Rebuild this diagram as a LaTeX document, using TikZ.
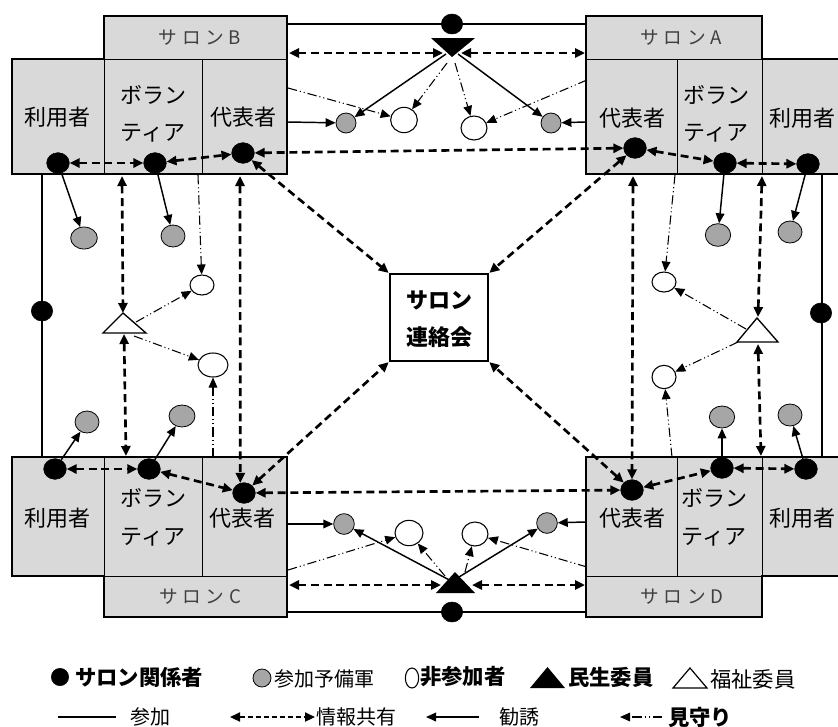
\documentclass[tikz,border=0pt]{standalone}
\usepackage{fontspec}
\setmainfont{Noto Sans CJK JP}
\usetikzlibrary{arrows.meta,shapes.geometric}
\definecolor{boxgray}{HTML}{D9D9D9}
\definecolor{dotgray}{HTML}{A6A6A6}
\definecolor{ttlgray}{HTML}{404040}
\begin{document}
\begin{tikzpicture}[x=0.75pt,y=-0.75pt,
  blackdot/.style={ellipse,fill=black,draw=black,inner sep=0pt,minimum width=17pt,minimum height=15.5pt},
  framedot/.style={ellipse,fill=black,draw=black,inner sep=0pt,minimum width=16pt,minimum height=15pt},
  graydot/.style={ellipse,fill=dotgray,draw=black,line width=0.6pt,inner sep=0pt,minimum width=19pt,minimum height=16.5pt},
  whitedot/.style={ellipse,fill=white,draw=black,line width=0.8pt,inner sep=0pt,minimum width=19pt,minimum height=16pt},
  info/.style={line width=2pt,dash pattern=on 6pt off 3.5pt,arrows={Triangle[length=7.5pt,width=6.8pt]-Triangle[length=7.5pt,width=6.8pt]}},
  invite/.style={line width=1.1pt,arrows={-Triangle[length=7.5pt,width=6.5pt]}},
  watch/.style={line width=0.8pt,dash pattern=on 7pt off 2.2pt on 0.8pt off 2.2pt on 0.8pt off 2.2pt,arrows={-Triangle[length=7.5pt,width=6.5pt]}},
  frameline/.style={line width=1.9pt},
  boxline/.style={line width=1.9pt},
  divline/.style={line width=0.75pt},
  lbl/.style={font=\fontsize{16.5pt}{18pt}\selectfont,inner sep=0pt},
  hubtxt/.style={font=\fontsize{16.5pt}{18pt}\selectfont\bfseries,inner sep=0pt},
  ttl/.style={font=\fontsize{14pt}{16pt}\selectfont,text=ttlgray,inner sep=0pt},
  legb/.style={font=\fontsize{16pt}{18pt}\selectfont\bfseries,inner sep=0pt},
  legr/.style={font=\fontsize{15pt}{18pt}\selectfont,inner sep=0pt},
  legr2/.style={font=\fontsize{16pt}{18pt}\selectfont,inner sep=0pt},
]
\useasboundingbox (0,0) rectangle (838,726);
\newcommand{\salontitle}[1]{サ\hspace{3.5pt}ロ\hspace{3.5pt}ン\hspace{3.5pt}#1}

% ---------- salon boxes ----------
% B
\fill[boxgray] (12,59) rectangle (287,174);
\fill[boxgray] (104,16) rectangle (287,59);
\draw[divline] (104,59) -- (287,59) (104,59) -- (104,174) (202,59) -- (202,174);
\draw[boxline] (12,59) -- (104,59) -- (104,16) -- (287,16) -- (287,174) -- (12,174) -- cycle;
% A
\fill[boxgray] (586,16) rectangle (762,59);
\fill[boxgray] (586,59) rectangle (842,174);
\draw[divline] (586,59) -- (762,59) (677,59) -- (677,174) (762,59) -- (762,174);
\draw[boxline] (586,16) -- (762,16) -- (762,59) -- (842,59) -- (842,174) -- (586,174) -- cycle;
% C
\fill[boxgray] (12,457) rectangle (287,576);
\fill[boxgray] (104,576) rectangle (287,617);
\draw[divline] (104,576) -- (287,576) (104,457) -- (104,576) (202,457) -- (202,576);
\draw[boxline] (12,457) -- (287,457) -- (287,617) -- (104,617) -- (104,576) -- (12,576) -- cycle;
% D
\fill[boxgray] (586,457) rectangle (842,576);
\fill[boxgray] (586,576) rectangle (762,617);
\draw[divline] (586,576) -- (762,576) (677,457) -- (677,576) (762,457) -- (762,576);
\draw[boxline] (586,457) -- (842,457) -- (842,576) -- (762,576) -- (762,617) -- (586,617) -- cycle;

% box texts
\node[ttl] (Bt) at (200,38) {\salontitle{B}};
\node[lbl] (Bl1) at (57,117) {利用者};
\node[lbl] (Bl2) at (153,95) {ボラン};
\node[lbl] (Bl3) at (153,133) {ティア};
\node[lbl] (Bl4) at (243,117) {代表者};
\node[ttl] (At) at (681,38) {\salontitle{A}};
\node[lbl] (Al1) at (632,118) {代表者};
\node[lbl] (Al2) at (716,95) {ボラン};
\node[lbl] (Al3) at (716,133) {ティア};
\node[lbl] (Al4) at (802,118) {利用者};
\node[ttl] (Ct) at (200,597) {\salontitle{C}};
\node[lbl] (Cl1) at (57,518) {利用者};
\node[lbl] (Cl2) at (153,498) {ボラン};
\node[lbl] (Cl3) at (153,537) {ティア};
\node[lbl] (Cl4) at (242,518) {代表者};
\node[ttl] (Dt) at (682,597) {\salontitle{D}};
\node[lbl] (Dl1) at (632,518) {代表者};
\node[lbl] (Dl2) at (714,498) {ボラン};
\node[lbl] (Dl3) at (714,537) {ティア};
\node[lbl] (Dl4) at (802,518) {利用者};

% hub
\node[draw,line width=1.9pt,fill=white,minimum width=73.5pt,minimum height=65pt,inner sep=0pt] (hub) at (439,317.5) {};
\node[hubtxt] (hub1) at (439,300) {サロン};
\node[hubtxt] (hub2) at (439,337) {連絡会};

% ---------- frame lines ----------
\coordinate (fTa) at (287,24); \coordinate (fTb) at (586,24);
\coordinate (fBa) at (287,612); \coordinate (fBb) at (586,612);
\coordinate (fLa) at (42,174); \coordinate (fLb) at (42,457);
\coordinate (fRa) at (822,174); \coordinate (fRb) at (822,457);
\draw[frameline] (fTa) -- (fTb);
\draw[frameline] (fBa) -- (fBb);
\draw[frameline] (fLa) -- (fLb);
\draw[frameline] (fRa) -- (fRb);
\node[framedot] (ft) at (452,24) {};
\node[framedot] (fb) at (452,612) {};
\node[framedot] (fl) at (42,311) {};
\node[framedot] (fr) at (821,313) {};

% ---------- triangles ----------
\fill (431,38) -- (475,38) -- (452,57) -- cycle;
\fill (436,593) -- (475,593) -- (455,572) -- cycle;
\draw[fill=white,line width=1pt] (103,333) -- (146,333) -- (123,313) -- cycle;
\draw[fill=white,line width=1pt] (737,342) -- (778,342) -- (757,318) -- cycle;
\coordinate (tTL) at (443,53); \coordinate (tTR) at (461,53);
\coordinate (tTi1) at (446,54); \coordinate (tTi2) at (458,54);
\coordinate (tTw1) at (447,63); \coordinate (tTw2) at (455,63);
\coordinate (bTL) at (441,585); \coordinate (bTR) at (472,585);
\coordinate (bTi1) at (455,583); \coordinate (bTi2) at (459,577);
\coordinate (bTw1) at (445,576); \coordinate (bTw2) at (465,572);
\coordinate (lTa) at (123,313); \coordinate (lTb) at (124,334);
\coordinate (lTw1) at (136,322); \coordinate (lTw2) at (134,336);
\coordinate (rTa) at (758,317); \coordinate (rTb) at (758,344);
\coordinate (rTw1) at (746,329); \coordinate (rTw2) at (738,342);

% ---------- persons ----------
\node[blackdot] (Bu) at (58,163) {};
\node[blackdot] (Bv) at (155,163) {};
\node[blackdot] (Br) at (243,153) {};
\node[blackdot] (Ar) at (635,148) {};
\node[blackdot] (Av) at (725,163) {};
\node[blackdot] (Au) at (808,164) {};
\node[blackdot] (Cu) at (55,469) {};
\node[blackdot] (Cv) at (149,469) {};
\node[blackdot] (Cr) at (244,493) {};
\node[blackdot] (Dr) at (632,490) {};
\node[blackdot] (Dv) at (722,468) {};
\node[blackdot] (Du) at (806,469) {};

\node[graydot,minimum width=15pt,minimum height=15pt] (tg1) at (346,123) {};
\node[graydot,minimum width=15pt,minimum height=15pt] (tg2) at (551,123) {};
\node[graydot,minimum width=15.5pt,minimum height=15.5pt] (bg1) at (344,524) {};
\node[graydot,minimum width=15.5pt,minimum height=15.5pt] (bg2) at (547,523) {};
\node[graydot,minimum width=20pt,minimum height=16.5pt] (lg1) at (84,238) {};
\node[graydot,minimum width=18pt,minimum height=16.5pt] (lg2) at (173,236) {};
\node[graydot,minimum width=18pt,minimum height=16.5pt] (lg3) at (87,422) {};
\node[graydot,minimum width=19.5pt,minimum height=16.5pt] (lg4) at (182,416) {};
\node[graydot,minimum width=19pt,minimum height=17pt] (rg1) at (718,235) {};
\node[graydot,minimum width=18pt,minimum height=16.5pt] (rg2) at (790,232) {};
\node[graydot,minimum width=19pt,minimum height=16.5pt] (rg3) at (722,417) {};
\node[graydot,minimum width=18pt,minimum height=16.5pt] (rg4) at (790,415) {};

\node[whitedot,minimum width=20pt,minimum height=19pt] (tw1) at (404,120) {};
\node[whitedot,minimum width=19.5pt,minimum height=18pt] (tw2) at (474,128) {};
\node[whitedot,minimum width=21pt,minimum height=19pt] (bw1) at (409,533) {};
\node[whitedot,minimum width=19.5pt,minimum height=18pt] (bw2) at (475,534) {};
\node[whitedot,minimum width=18pt,minimum height=15pt] (lw1) at (202,285) {};
\node[whitedot,minimum width=22.5pt,minimum height=18pt] (lw2) at (213,365) {};
\node[whitedot,minimum width=18pt,minimum height=15pt] (rw1) at (664,282) {};
\node[whitedot,minimum width=18pt,minimum height=17.5pt] (rw2) at (664,377) {};

% ---------- box edge points ----------
\coordinate (Bbot1) at (240,176); \coordinate (Bbot2) at (122,176); \coordinate (Bbot3) at (198,175);
\coordinate (Abot1) at (633,176); \coordinate (Abot2) at (762,176); \coordinate (Abot3) at (675,175);
\coordinate (Ctop1) at (126,456); \coordinate (Ctop2) at (213,457);
\coordinate (Dtop2) at (761,456); \coordinate (Dtop3) at (672,457);
\coordinate (Btitle) at (289,53); \coordinate (Atitle) at (585,53);
\coordinate (Ctitle) at (289,585); \coordinate (Dtitle) at (585,585);
\coordinate (Bright1) at (288,122); \coordinate (Bright2) at (288,88);
\coordinate (Aleft1) at (585,122); \coordinate (Aleft2) at (587,80);
\coordinate (Cright1) at (288,524); \coordinate (Cright2) at (288,570);
\coordinate (Dleft1) at (585,522); \coordinate (Dleft2) at (587,567);

% ---------- information sharing ----------
\draw[info] (Bu) -- (Bv);
\draw[info] (Bv) -- (Br);
\draw[info] (Ar) -- (Av);
\draw[info] (Av) -- (Au);
\draw[info] (Cu) -- (Cv);
\draw[info] (Cv) -- (Cr);
\draw[info] (Dr) -- (Dv);
\draw[info] (Dv) -- (Du);
\draw[info] (Br) -- (Ar);
\draw[info] (Cr) -- (Dr);
\draw[info] (Br) -- (hub.north west);
\draw[info] (Ar) -- (hub.north east);
\draw[info] (Cr) -- (hub.south west);
\draw[info] (Dr) -- (hub.south east);
\draw[info] (Bbot1) -- (Cr.110);
\draw[info] (Abot1) -- (Dr.north);
\draw[info] (Bbot2) -- (lTa);
\draw[info] (lTb) -- (Ctop1);
\draw[info] (Abot2) -- (rTa);
\draw[info] (rTb) -- (Dtop2);
\draw[info] (Btitle) -- (tTL);
\draw[info] (tTR) -- (Atitle);
\draw[info] (Ctitle) -- (bTL);
\draw[info] (bTR) -- (Dtitle);

% ---------- invitation ----------
\draw[invite] (Bright1) -- (tg1);
\draw[invite] (Aleft1) -- (tg2);
\draw[invite] (tTi1) -- (tg1);
\draw[invite] (tTi2) -- (tg2);
\draw[invite] (Cright1) -- (bg1);
\draw[invite] (Dleft1) -- (bg2);
\draw[invite] (bTi1) -- (bg1);
\draw[invite] (bTi2) -- (bg2);
\draw[invite] (Bu) -- (lg1);
\draw[invite] (Bv) -- (lg2);
\draw[invite] (Cu) -- (lg3);
\draw[invite] (Cv) -- (lg4);
\draw[invite] (Av) -- (rg1);
\draw[invite] (Au) -- (rg2);
\draw[invite] (Dv) -- (rg3);
\draw[invite] (Du) -- (rg4);

% ---------- watching ----------
\draw[watch] (Bright2) -- (tw1);
\draw[watch] (tTw1) -- (tw1);
\draw[watch] (tTw2) -- (tw2);
\draw[watch] (Aleft2) -- (tw2);
\draw[watch] (Cright2) -- (bw1);
\draw[watch] (bTw1) -- (bw1);
\draw[watch] (bTw2) -- (bw2);
\draw[watch] (Dleft2) -- (bw2);
\draw[watch] (Bbot3) -- (lw1);
\draw[watch] (lTw1) -- (lw1);
\draw[watch] (lTw2) -- (lw2);
\draw[watch] (Ctop2) -- (lw2);
\draw[watch] (Abot3) -- (rw1);
\draw[watch] (rTw1) -- (rw1);
\draw[watch] (rTw2) -- (rw2);
\draw[watch] (Dtop3) -- (rw2);

% ---------- legend ----------
\node[blackdot,minimum width=13pt,minimum height=13pt] (k1) at (60,677) {};
\node[legb,anchor=west] (k1t) at (75,677) {サロン関係者};
\node[graydot,minimum width=13.5pt,minimum height=13.5pt] (k2) at (262,678) {};
\node[legr,anchor=west] (k2t) at (274,679) {参加予備軍};
\node[whitedot,minimum width=10pt,minimum height=15pt] (k3) at (412,678) {};
\node[legb,anchor=west] (k3t) at (420,677) {非参加者};
\fill (530,688) -- (565,688) -- (547.5,667) -- cycle;
\node[legb,anchor=west] (k4t) at (568,677) {民生委員};
\draw[line width=0.9pt] (673,688) -- (707,688) -- (690,668) -- cycle;
\node[legr2,anchor=west] (k5t) at (710,679) {福祉委員};

\coordinate (L1a) at (58,717); \coordinate (L1b) at (116,717);
\draw[line width=1.3pt] (L1a) -- (L1b);
\node[legr] (k6t) at (150,717) {参加};
\coordinate (L2a) at (230,717); \coordinate (L2b) at (315,717);
\draw[info,line width=1.4pt,dash pattern=on 4pt off 2pt] (L2a) -- (L2b);
\node[legr,anchor=west] (k7t) at (316,717) {情報共有};
\coordinate (L3a) at (479,717); \coordinate (L3b) at (426,717);
\draw[invite] (L3a) -- (L3b);
\node[legr] (k8t) at (519,717) {勧誘};
\coordinate (L4a) at (662,717); \coordinate (L4b) at (620,717);
\draw[watch] (L4a) -- (L4b);
\node[legb,anchor=west] (k9t) at (668,717) {見守り};
\end{tikzpicture}
\end{document}
